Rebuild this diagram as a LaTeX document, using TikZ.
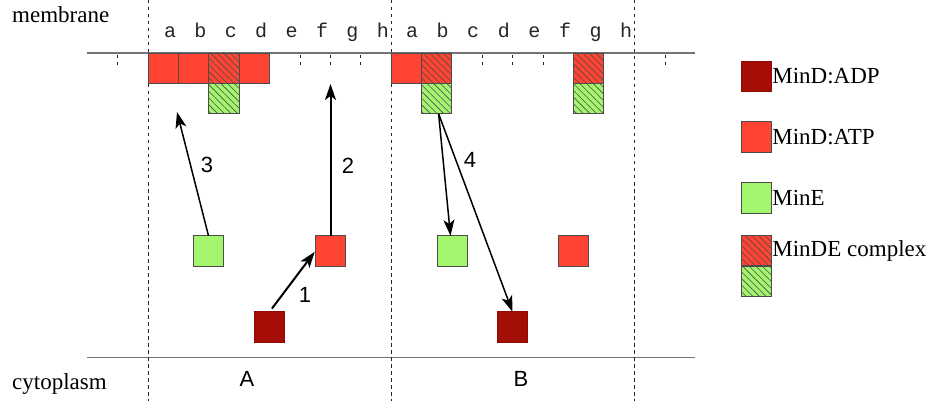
\documentclass[tikz,border=0pt]{standalone}
\usepackage{fontspec}
\setmainfont{Liberation Serif}
\newfontfamily\sansf{Liberation Sans}
\newfontfamily\monof{Liberation Mono}
\usetikzlibrary{arrows.meta,patterns.meta}
\definecolor{mred}{RGB}{255,68,51}
\definecolor{mdark}{RGB}{165,14,6}
\definecolor{mgreen}{RGB}{164,245,110}
\begin{document}
\begin{tikzpicture}[x=1pt,y=-1pt,
  box/.style={draw=black!70, line width=0.9pt, minimum width=30.4pt, minimum height=30.4pt, inner sep=0pt, outer sep=0pt},
  atp/.style={box, fill=mred},
  adp/.style={box, fill=mdark, draw=mdark!85!black},
  mine/.style={box, fill=mgreen},
  hatch/.style={postaction={pattern={Lines[angle=-45,distance=4.7pt,line width=0.6pt]}, pattern color=black!70}},
  cxd/.style={atp, hatch},
  cxe/.style={mine, hatch},
  arr/.style={-{Stealth[length=16pt,width=11pt,inset=4pt]}, line width=2pt},
  arrthin/.style={arr, line width=1.5pt},
  lbl/.style={font=\sansf\fontsize{22}{22}\selectfont, inner sep=0pt},
  col/.style={font=\monof\fontsize{20}{20}\selectfont, anchor=base, inner sep=0pt, text=black!85},
  ser/.style={font=\fontsize{23}{23}\selectfont, inner sep=0pt},
  legtxt/.style={ser, anchor=west, inner sep=0.5pt},
  vdash/.style={line width=0.8pt, black!85, dash pattern=on 3.5pt off 3.5pt},
  hline/.style={line width=1.4pt, black!55}
]
\useasboundingbox (0,0) rectangle (932,401);

% membrane and cytoplasm lines
\draw[hline] (87,53) -- (695,53);
\draw[hline] (87,357.5) -- (695,357.5);
% dashed section lines
\foreach \x in {148,391,634.6} \draw[vdash] (\x,0) -- (\x,401);
% ticks
\foreach \x in {117.6,300,330.4,360.8,482.2,512.6,543,665}
  \draw[vdash] (\x,55) -- (\x,65);

% texts
\node[ser, anchor=base west] (tmem) at (12,23) {membrane};
\node[ser, anchor=base west] (tcyt) at (12,389) {cytoplasm};
\foreach \l [count=\i from 0] in {a,b,c,d,e,f,g,h} {
  \node[col] (cA\l) at (170+30.4*\i,38) {\l};
  \node[col] (cB\l) at (412+30.6*\i,38) {\l};
}
\node[lbl] (secA) at (247,379) {A};
\node[lbl] (secB) at (521,379) {B};

% membrane boxes, section A
\node[atp] (Aa) at (163.2,68.2) {};
\node[atp] (Ab) at (193.6,68.2) {};
\node[cxd] (Ac) at (224,68.2) {};
\node[atp] (Ad) at (254.4,68.2) {};
\node[cxe] (AcE) at (224,98.6) {};
% membrane boxes, section B
\node[atp] (Ba) at (406.2,68.2) {};
\node[cxd] (Bb) at (436.6,68.2) {};
\node[cxe] (BbE) at (436.6,98.6) {};
\node[cxd] (Bg) at (588.6,68.2) {};
\node[cxe] (BgE) at (588.6,98.6) {};

% cytoplasm boxes
\node[mine] (gA) at (208.5,251) {};
\node[atp] (rA) at (330.5,251) {};
\node[adp] (dA) at (269.5,327) {};
\node[mine] (gB) at (452.5,251) {};
\node[adp] (dB) at (512.5,327) {};
\node[atp] (rB) at (573.5,251) {};

% arrow targets on the membrane
\coordinate (mf) at (330.5,84);
\coordinate (ma) at (177,112);

% arrows
\draw[arr, shorten <=4pt, shorten >=1pt] (dA.north) -- (rA.west);
\draw[arr] (rA.north) -- (mf);
\draw[arrthin] (gA.north) -- (ma);
\draw[arrthin] ([xshift=2pt]BbE.south) -- ([xshift=-2pt]gB.north);
\draw[arrthin] ([xshift=2pt]BbE.south) -- (dB.north);

\node[lbl] (n1) at (305,295) {1};
\node[lbl] (n2) at (348,166) {2};
\node[lbl] (n3) at (207,165) {3};
\node[lbl] (n4) at (470,160) {4};

% legend
\node[adp] (L1) at (756.5,76.5) {};
\node[atp] (L2) at (756.5,137) {};
\node[mine] (L3) at (756.5,198) {};
\node[cxd] (L4) at (756.5,250.5) {};
\node[cxe] (L4e) at (756.5,281.5) {};
\node[legtxt] (T1) at (L1.east) {MinD:ADP};
\node[legtxt] (T2) at (L2.east) {MinD:ATP};
\node[legtxt] (T3) at (L3.east) {MinE};
\node[legtxt] (T4) at (L4.east) {MinDE complex};
\end{tikzpicture}
\end{document}
